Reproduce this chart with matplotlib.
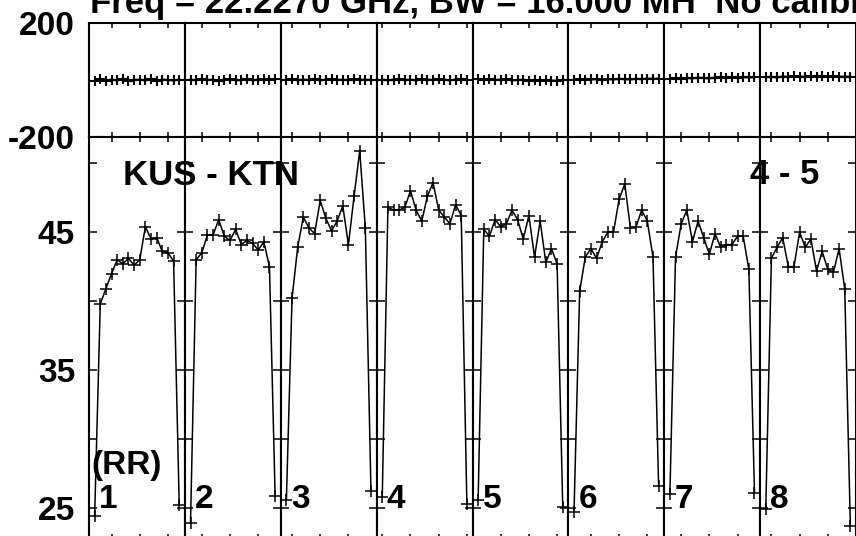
import numpy as np
import matplotlib.pyplot as plt

plt.rcParams['font.family'] = ['Liberation Sans', 'DejaVu Sans']
plt.rcParams['font.weight'] = 'bold'
plt.rcParams['axes.unicode_minus'] = False

# 8 IFs x 16 channels, baseline KUS-KTN, RR
chan = np.arange(1, 17)
if_names = ['1', '2', '3', '4', '5', '6', '7', '8']

amp_if1 = [24.4, 39.8, 40.9, 42.0, 43.0, 42.7, 43.1, 42.6, 43.0, 45.4, 44.5, 44.6, 43.6, 43.5, 42.9, 25.2]
amp_if2 = [23.9, 43.0, 43.5, 44.8, 44.8, 45.9, 44.7, 44.4, 45.2, 44.1, 44.4, 44.2, 43.7, 44.3, 42.5, 25.9]
amp_if3 = [25.6, 40.2, 43.9, 46.1, 45.3, 44.9, 47.3, 46.0, 45.1, 45.8, 46.9, 44.1, 47.6, 50.9, 45.3, 26.2]
amp_if4 = [25.8, 46.8, 46.6, 46.6, 46.8, 48.0, 46.6, 45.8, 47.6, 48.6, 46.6, 46.1, 45.6, 47.0, 46.2, 25.3]
amp_if5 = [25.6, 45.2, 44.7, 45.9, 45.4, 45.6, 46.6, 45.9, 44.5, 46.2, 43.2, 45.8, 42.8, 43.8, 42.7, 25.1]
amp_if6 = [24.7, 40.7, 43.2, 43.8, 43.1, 44.3, 45.0, 45.0, 47.4, 48.5, 45.3, 45.4, 46.6, 45.8, 43.2, 26.6]
amp_if7 = [26.0, 43.2, 45.6, 46.6, 44.3, 45.8, 44.6, 43.4, 44.9, 43.9, 44.1, 44.1, 44.7, 44.7, 42.3, 26.1]
amp_if8 = [24.9, 43.1, 43.9, 44.6, 42.5, 42.5, 45.0, 43.9, 44.5, 42.2, 43.6, 42.3, 42.1, 43.8, 40.9, 23.7]

ph_if1 = [-3, 2, -2, 1, -1, 2, -2, 0, 1, -1, 2, -2, 1, 0, -1, 1]
ph_if2 = [1, -1, 2, 0, 1, -2, 1, 2, -1, 0, 2, -1, 1, 3, 0, 2]
ph_if3 = [0, 2, -1, 1, 0, 2, -1, 1, 2, 0, 1, -1, 2, 1, 0, 1]
ph_if4 = [1, -1, 1, 2, 0, 1, -1, 2, 1, 0, 2, 1, -1, 1, 2, 0]
ph_if5 = [2, 1, 3, 0, 1, 2, -1, 0, 1, -2, 0, -3, -1, -2, -3, -1]
ph_if6 = [1, 2, 0, 2, 3, 1, 3, 2, 4, 3, 2, 4, 3, 5, 4, 5]
ph_if7 = [4, 6, 5, 7, 6, 8, 7, 6, 8, 9, 7, 9, 8, 10, 9, 10]
ph_if8 = [10, 11, 9, 12, 11, 13, 12, 11, 13, 12, 14, 12, 13, 12, 11, 12]

amps = [amp_if1, amp_if2, amp_if3, amp_if4, amp_if5, amp_if6, amp_if7, amp_if8]
phases = [ph_if1, ph_if2, ph_if3, ph_if4, ph_if5, ph_if6, ph_if7, ph_if8]

# frequency ticks fall on different channels in each IF
xticks = [[4, 9, 14], [3, 8, 13], [2, 7, 12], [1, 6, 11, 16],
          [5, 10, 15], [4, 9, 14], [3, 8, 13], [2, 7, 12]]

W, H = 856, 536
fig = plt.figure(figsize=(W / 100, H / 100), dpi=100)
gs = fig.add_gridspec(2, 8, left=89 / W, right=856 / W, top=1 - 23 / H,
                      bottom=1 - 539 / H, height_ratios=[114, 402],
                      hspace=0, wspace=0)

fs = 24
for i in range(8):
    axp = fig.add_subplot(gs[0, i])
    axa = fig.add_subplot(gs[1, i])

    axp.plot(chan, phases[i], 'k-', lw=1.6, marker='+', ms=7, mew=1.5)
    axa.plot(chan, amps[i], 'k-', lw=1.1, marker='+', ms=8, mew=1.1)

    for ax in (axp, axa):
        ax.set_xlim(0, 17)
        ax.set_xticks(xticks[i])
        ax.tick_params(axis='x', direction='in', top=True, bottom=True,
                       length=3.6, width=1.1, labelbottom=False)
        for s in ax.spines.values():
            s.set_linewidth(1.5)

    axp.set_ylim(-200, 200)
    axp.set_yticks([-200, 200])
    axp.tick_params(axis='y', length=0, pad=10, labelsize=fs,
                    labelleft=(i == 0))

    axa.set_ylim(22.75, 51.9)
    axa.set_yticks([25, 30, 35, 40, 45, 50])
    axa.set_yticklabels(['25', '', '35', '', '45', ''])
    axa.tick_params(axis='y', direction='in', left=True, right=True,
                    length=6, width=1.1, pad=10, labelsize=fs,
                    labelleft=(i == 0))

    axa.text(0.105, 25, if_names[i], transform=axa.get_yaxis_transform(),
             fontsize=fs, va='baseline', ha='left')

fig.text(90 / W, 1 - 13 / H, 'Freq = 22.2270 GHz, BW = 16.000 MH  No calibration',
         fontsize=25, va='baseline', ha='left')
fig.text(123 / W, 1 - 185 / H, 'KUS - KTN', fontsize=25, va='baseline', ha='left')
fig.text(750 / W, 1 - 184 / H, '4 - 5', fontsize=25, va='baseline', ha='left')
fig.text(91 / W, 1 - 474 / H, '(RR)', fontsize=fs, va='baseline', ha='left')

fig.savefig('out.png', dpi=100)
